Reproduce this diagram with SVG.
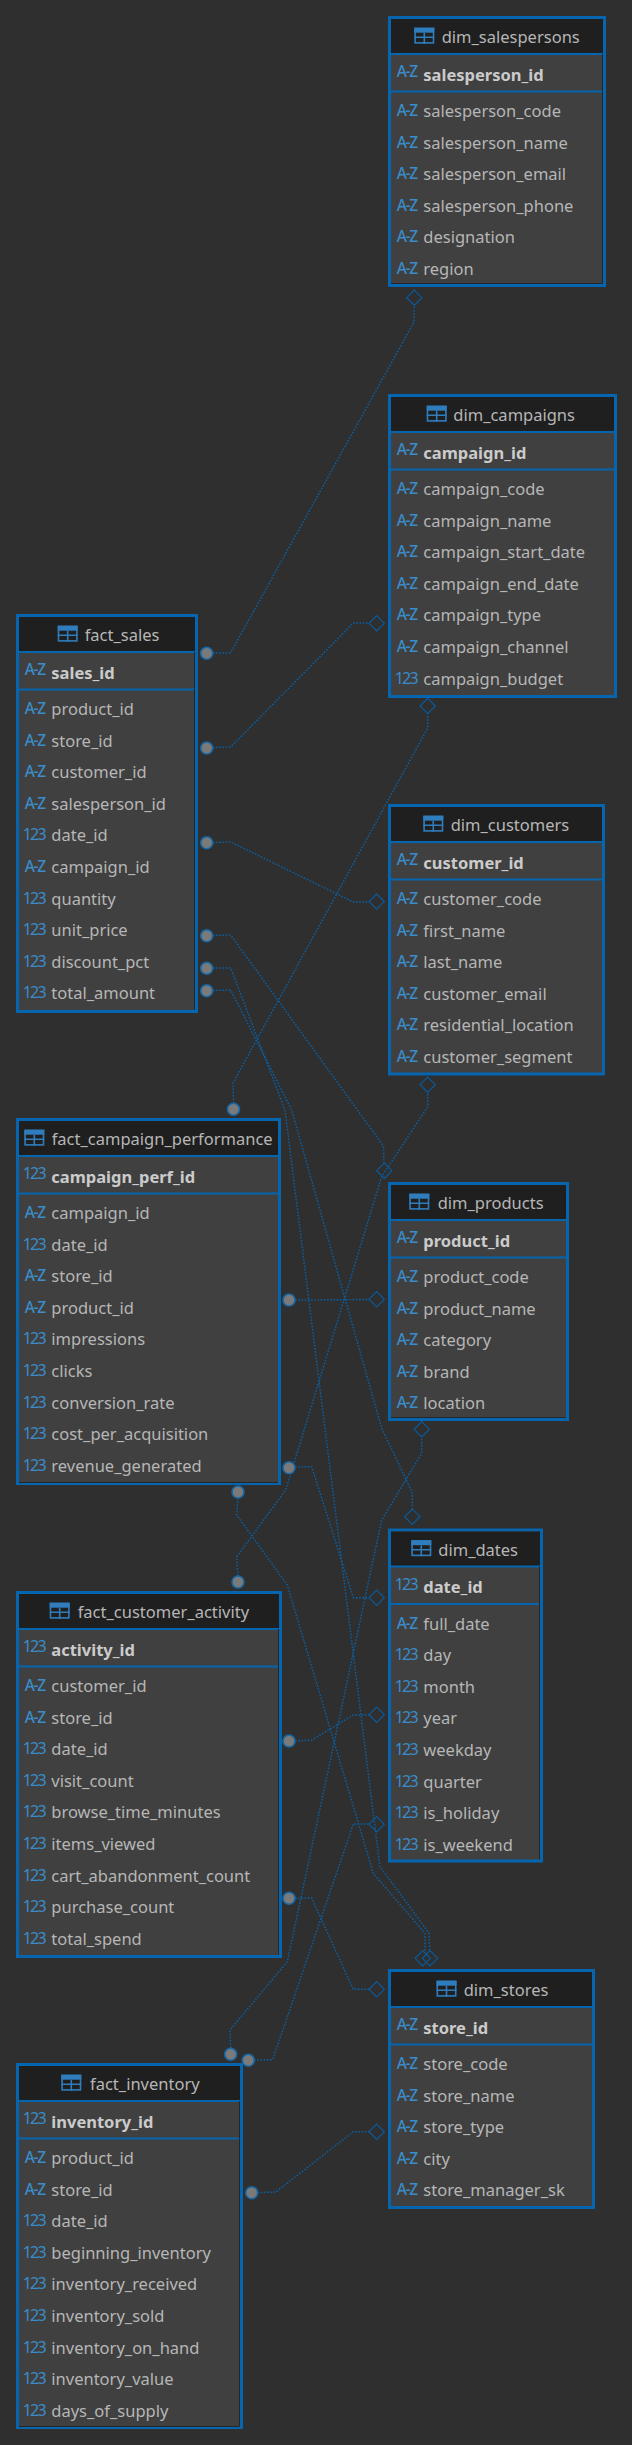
<svg xmlns="http://www.w3.org/2000/svg" xmlns:xlink="http://www.w3.org/1999/xlink" width="632" height="2445" viewBox="0 0 632 2445">
<style>
text{font-family:"Noto Sans","Open Sans","Liberation Sans",sans-serif;font-size:16.5px;fill:#b6b6b6}
.pk{font-weight:700;fill:#cbcbcb}
.az,.n{font-size:15.5px;fill:#3a8cca;font-weight:500}
.az{letter-spacing:-1.3px}
.n{font-size:16px;font-weight:400;letter-spacing:-1.8px}
.box{fill:#404040;stroke:#0565ae;stroke-width:3}
.head{fill:#1f1f1f}
.sep{stroke:#0565ae;stroke-width:2.2}
.sh{stroke:#262626;stroke-width:1;fill:none}
.link polyline{fill:none;stroke:#0862a9;stroke-width:1.4;stroke-dasharray:1.6 1.6}
.dot{fill:#7a7a7a;stroke:#1468a8;stroke-width:1.6}
.dia{fill:none;stroke:#0a5a9c;stroke-width:1.2}
.ic{fill:none;stroke:#2f7dbd;stroke-width:1.6}
</style>
<defs>
<g id="tb"><rect class="ic" x=".8" y=".8" width="18.4" height="14.4"/><rect x="0" y="0" width="20" height="5" fill="#2f7dbd"/><path class="ic" d="M0 9.5H20M10 5V16"/></g>
<circle id="c" class="dot" r="6"/>
<path id="d" class="dia" d="M0-7.6 7.6 0 0 7.6-7.6 0Z"/>
</defs>
<rect width="632" height="2445" fill="#2f2f2f"/>
<g id="connectors" class="link">
<polyline points="213,653 230.5,653 414,322 414,305"/>
<polyline points="213,747.5 230.7,747 353.3,623 369,623"/>
<polyline points="213,842.5 230.7,842 353.3,902 369,902"/>
<polyline points="213,935.5 230.7,935 383.5,1146 384,1163"/>
<polyline points="213,968 230.7,968 285,1110 380,1866.7 429,1933 429.7,1950"/>
<polyline points="213,990.5 230.7,990 291.7,1110 381.7,1428.3 412.3,1492.7 412.3,1509"/>
<polyline points="233.5,1103 233,1083 427.7,728 427.7,713.5"/>
<polyline points="295,1300 369,1299.5"/>
<polyline points="295,1467 311.7,1466.7 353.3,1597.7 369,1597.7"/>
<polyline points="238,1498 236.7,1515 287.3,1585 373.3,1873.3 425,1933.3 425,1950.5"/>
<polyline points="238,1576 236.7,1556.7 285.7,1490 381.7,1176.7 427.7,1106.7 427.7,1092"/>
<polyline points="295,1741 311.7,1740 353.3,1715 369,1715"/>
<polyline points="295,1898.3 311.7,1898 353.3,1989.3 369,1989.3"/>
<polyline points="230.7,2048 230,2030 287.3,1961.7 381.7,1520 421.7,1453.3 421.7,1437"/>
<polyline points="254,2060 272.7,2059.7 353.3,1824 369,1824"/>
<polyline points="257.5,2192.5 276,2192 353.3,2131.7 369,2131.7"/>
</g>
<g id="endpoints">
<use xlink:href="#c" x="206.7" y="653.3"/><use xlink:href="#c" x="206.7" y="748"/><use xlink:href="#c" x="206.7" y="842.7"/><use xlink:href="#c" x="206.7" y="935.7"/><use xlink:href="#c" x="206.7" y="968.3"/><use xlink:href="#c" x="206.7" y="990.7"/>
<use xlink:href="#c" x="233.5" y="1109.3"/><use xlink:href="#c" x="289" y="1300"/><use xlink:href="#c" x="289" y="1467.7"/><use xlink:href="#c" x="238" y="1492"/>
<use xlink:href="#c" x="238" y="1582"/><use xlink:href="#c" x="289" y="1741"/><use xlink:href="#c" x="289" y="1898.3"/>
<use xlink:href="#c" x="230.7" y="2054.3"/><use xlink:href="#c" x="248.3" y="2060.3"/><use xlink:href="#c" x="251.7" y="2192.7"/>
<use xlink:href="#d" x="414.3" y="297.7"/><use xlink:href="#d" x="376.7" y="623.3"/><use xlink:href="#d" x="427.7" y="706"/><use xlink:href="#d" x="376.7" y="901.6"/><use xlink:href="#d" x="427.7" y="1084.7"/><use xlink:href="#d" x="384.3" y="1170.7"/><use xlink:href="#d" x="376.7" y="1299.3"/><use xlink:href="#d" x="421.7" y="1429.3"/><use xlink:href="#d" x="412.3" y="1516.7"/><use xlink:href="#d" x="376.7" y="1597.7"/><use xlink:href="#d" x="376.7" y="1714.7"/><use xlink:href="#d" x="376.7" y="1824.2"/><use xlink:href="#d" x="422.7" y="1958.3"/><use xlink:href="#d" x="430" y="1958.3"/><use xlink:href="#d" x="376.7" y="1989.3"/><use xlink:href="#d" x="376.7" y="2131.7"/>
</g>
<g id="dim_salespersons" transform="translate(388 16)">
<rect class="box" x="1.5" y="1.5" width="215" height="268"/><rect class="head" x="3" y="3" width="212" height="35"/><path class="sep" d="M3 38H215M3 75.5H215"/><path class="sh" d="M214.5 38V267.5H3"/>
<use xlink:href="#tb" x="26.3" y="11.7"/><text x="53.7" y="27">dim_salespersons</text>
<text class="az" x="8.7" y="61">A-Z</text><text class="pk" x="35.3" y="64.7">salesperson_id</text>
<text class="az" x="8.7" y="100">A-Z</text><text x="35.3" y="101">salesperson_code</text>
<text class="az" x="8.7" y="131.6">A-Z</text><text x="35.3" y="132.6">salesperson_name</text>
<text class="az" x="8.7" y="163.2">A-Z</text><text x="35.3" y="164.2">salesperson_email</text>
<text class="az" x="8.7" y="194.8">A-Z</text><text x="35.3" y="195.8">salesperson_phone</text>
<text class="az" x="8.7" y="226.4">A-Z</text><text x="35.3" y="227.4">designation</text>
<text class="az" x="8.7" y="258">A-Z</text><text x="35.3" y="259">region</text>
</g>
<g id="dim_campaigns" transform="translate(388 394)">
<rect class="box" x="1.5" y="1.5" width="226" height="301"/><rect class="head" x="3" y="3" width="223" height="35"/><path class="sep" d="M3 38H226M3 75.5H226"/>
<use xlink:href="#tb" x="38.7" y="11.7"/><text x="65.3" y="27">dim_campaigns</text>
<text class="az" x="8.7" y="61">A-Z</text><text class="pk" x="35.3" y="64.7">campaign_id</text>
<text class="az" x="8.7" y="100">A-Z</text><text x="35.3" y="101">campaign_code</text>
<text class="az" x="8.7" y="131.6">A-Z</text><text x="35.3" y="132.6">campaign_name</text>
<text class="az" x="8.7" y="163.2">A-Z</text><text x="35.3" y="164.2">campaign_start_date</text>
<text class="az" x="8.7" y="194.8">A-Z</text><text x="35.3" y="195.8">campaign_end_date</text>
<text class="az" x="8.7" y="226.4">A-Z</text><text x="35.3" y="227.4">campaign_type</text>
<text class="az" x="8.7" y="258">A-Z</text><text x="35.3" y="259">campaign_channel</text>
<text class="n" x="6.7" y="289.6">123</text><text x="35.3" y="290.6">campaign_budget</text>
</g>
<g id="dim_customers" transform="translate(388 804)">
<rect class="box" x="1.5" y="1.5" width="214" height="268.5"/><rect class="head" x="3" y="3" width="211" height="35"/><path class="sep" d="M3 38H214M3 75.5H214"/>
<use xlink:href="#tb" x="35.3" y="11.7"/><text x="62.7" y="27">dim_customers</text>
<text class="az" x="8.7" y="61">A-Z</text><text class="pk" x="35.3" y="64.7">customer_id</text>
<text class="az" x="8.7" y="100">A-Z</text><text x="35.3" y="101">customer_code</text>
<text class="az" x="8.7" y="131.6">A-Z</text><text x="35.3" y="132.6">first_name</text>
<text class="az" x="8.7" y="163.2">A-Z</text><text x="35.3" y="164.2">last_name</text>
<text class="az" x="8.7" y="194.8">A-Z</text><text x="35.3" y="195.8">customer_email</text>
<text class="az" x="8.7" y="226.4">A-Z</text><text x="35.3" y="227.4">residential_location</text>
<text class="az" x="8.7" y="258">A-Z</text><text x="35.3" y="259">customer_segment</text>
</g>
<g id="dim_products" transform="translate(388 1182)">
<rect class="box" x="1.5" y="1.5" width="178" height="236"/><rect class="head" x="3" y="3" width="175" height="35"/><path class="sep" d="M3 38H178M3 75.5H178"/><path class="sh" d="M3 235.5H178"/>
<use xlink:href="#tb" x="21.3" y="11.7"/><text x="49.7" y="27">dim_products</text>
<text class="az" x="8.7" y="61">A-Z</text><text class="pk" x="35.3" y="64.7">product_id</text>
<text class="az" x="8.7" y="100">A-Z</text><text x="35.3" y="101">product_code</text>
<text class="az" x="8.7" y="131.6">A-Z</text><text x="35.3" y="132.6">product_name</text>
<text class="az" x="8.7" y="163.2">A-Z</text><text x="35.3" y="164.2">category</text>
<text class="az" x="8.7" y="194.8">A-Z</text><text x="35.3" y="195.8">brand</text>
<text class="az" x="8.7" y="226.4">A-Z</text><text x="35.3" y="227.4">location</text>
</g>
<g id="dim_dates" transform="translate(388 1528.5)">
<rect class="box" x="1.5" y="1.5" width="152" height="331"/><rect class="head" x="3" y="3" width="149" height="35"/><path class="sep" d="M3 38H152M3 75.5H152"/><path class="sh" d="M151.5 38V331"/>
<use xlink:href="#tb" x="23.3" y="11.7"/><text x="50.3" y="27">dim_dates</text>
<text class="n" x="6.7" y="61">123</text><text class="pk" x="35.3" y="64.7">date_id</text>
<text class="az" x="8.7" y="100">A-Z</text><text x="35.3" y="101">full_date</text>
<text class="n" x="6.7" y="131.6">123</text><text x="35.3" y="132.6">day</text>
<text class="n" x="6.7" y="163.2">123</text><text x="35.3" y="164.2">month</text>
<text class="n" x="6.7" y="194.8">123</text><text x="35.3" y="195.8">year</text>
<text class="n" x="6.7" y="226.4">123</text><text x="35.3" y="227.4">weekday</text>
<text class="n" x="6.7" y="258">123</text><text x="35.3" y="259">quarter</text>
<text class="n" x="6.7" y="289.6">123</text><text x="35.3" y="290.6">is_holiday</text>
<text class="n" x="6.7" y="321.2">123</text><text x="35.3" y="322.2">is_weekend</text>
</g>
<g id="dim_stores" transform="translate(388 1969)">
<rect class="box" x="1.5" y="1.5" width="204" height="237"/><rect class="head" x="3" y="3" width="201" height="35"/><path class="sep" d="M3 38H204M3 75.5H204"/>
<use xlink:href="#tb" x="48.5" y="11.7"/><text x="75.7" y="27">dim_stores</text>
<text class="az" x="8.7" y="61">A-Z</text><text class="pk" x="35.3" y="64.7">store_id</text>
<text class="az" x="8.7" y="100">A-Z</text><text x="35.3" y="101">store_code</text>
<text class="az" x="8.7" y="131.6">A-Z</text><text x="35.3" y="132.6">store_name</text>
<text class="az" x="8.7" y="163.2">A-Z</text><text x="35.3" y="164.2">store_type</text>
<text class="az" x="8.7" y="194.8">A-Z</text><text x="35.3" y="195.8">city</text>
<text class="az" x="8.7" y="226.4">A-Z</text><text x="35.3" y="227.4">store_manager_sk</text>
</g>
<g id="fact_sales" transform="translate(16 614)">
<rect class="box" x="1.5" y="1.5" width="179" height="396"/><rect class="head" x="3" y="3" width="176" height="35"/><path class="sep" d="M3 38H179M3 75.5H179"/><path class="sh" d="M178.5 38V396"/>
<use xlink:href="#tb" x="41.7" y="11.7"/><text x="68.7" y="27">fact_sales</text>
<text class="az" x="8.7" y="61">A-Z</text><text class="pk" x="35.3" y="64.7">sales_id</text>
<text class="az" x="8.7" y="100">A-Z</text><text x="35.3" y="101">product_id</text>
<text class="az" x="8.7" y="131.6">A-Z</text><text x="35.3" y="132.6">store_id</text>
<text class="az" x="8.7" y="163.2">A-Z</text><text x="35.3" y="164.2">customer_id</text>
<text class="az" x="8.7" y="194.8">A-Z</text><text x="35.3" y="195.8">salesperson_id</text>
<text class="n" x="6.7" y="226.4">123</text><text x="35.3" y="227.4">date_id</text>
<text class="az" x="8.7" y="258">A-Z</text><text x="35.3" y="259">campaign_id</text>
<text class="n" x="6.7" y="289.6">123</text><text x="35.3" y="290.6">quantity</text>
<text class="n" x="6.7" y="321.2">123</text><text x="35.3" y="322.2">unit_price</text>
<text class="n" x="6.7" y="352.8">123</text><text x="35.3" y="353.8">discount_pct</text>
<text class="n" x="6.7" y="384.4">123</text><text x="35.3" y="385.4">total_amount</text>
</g>
<g id="fact_campaign_performance" transform="translate(16 1118)">
<rect class="box" x="1.5" y="1.5" width="262" height="364"/><rect class="head" x="3" y="3" width="259" height="35"/><path class="sep" d="M3 38H262M3 75.5H262"/><path class="sh" d="M3 364.5H262"/>
<use xlink:href="#tb" x="8.3" y="11.7"/><text x="35.7" y="27">fact_campaign_performance</text>
<text class="n" x="6.7" y="61">123</text><text class="pk" x="35.3" y="64.7">campaign_perf_id</text>
<text class="az" x="8.7" y="100">A-Z</text><text x="35.3" y="101">campaign_id</text>
<text class="n" x="6.7" y="131.6">123</text><text x="35.3" y="132.6">date_id</text>
<text class="az" x="8.7" y="163.2">A-Z</text><text x="35.3" y="164.2">store_id</text>
<text class="az" x="8.7" y="194.8">A-Z</text><text x="35.3" y="195.8">product_id</text>
<text class="n" x="6.7" y="226.4">123</text><text x="35.3" y="227.4">impressions</text>
<text class="n" x="6.7" y="258">123</text><text x="35.3" y="259">clicks</text>
<text class="n" x="6.7" y="289.6">123</text><text x="35.3" y="290.6">conversion_rate</text>
<text class="n" x="6.7" y="321.2">123</text><text x="35.3" y="322.2">cost_per_acquisition</text>
<text class="n" x="6.7" y="352.8">123</text><text x="35.3" y="353.8">revenue_generated</text>
</g>
<g id="fact_customer_activity" transform="translate(16 1591)">
<rect class="box" x="1.5" y="1.5" width="263" height="364"/><rect class="head" x="3" y="3" width="260" height="35"/><path class="sep" d="M3 38H263M3 75.5H263"/><path class="sh" d="M262.5 38V364"/>
<use xlink:href="#tb" x="33.7" y="11.7"/><text x="61.7" y="27">fact_customer_activity</text>
<text class="n" x="6.7" y="61">123</text><text class="pk" x="35.3" y="64.7">activity_id</text>
<text class="az" x="8.7" y="100">A-Z</text><text x="35.3" y="101">customer_id</text>
<text class="az" x="8.7" y="131.6">A-Z</text><text x="35.3" y="132.6">store_id</text>
<text class="n" x="6.7" y="163.2">123</text><text x="35.3" y="164.2">date_id</text>
<text class="n" x="6.7" y="194.8">123</text><text x="35.3" y="195.8">visit_count</text>
<text class="n" x="6.7" y="226.4">123</text><text x="35.3" y="227.4">browse_time_minutes</text>
<text class="n" x="6.7" y="258">123</text><text x="35.3" y="259">items_viewed</text>
<text class="n" x="6.7" y="289.6">123</text><text x="35.3" y="290.6">cart_abandonment_count</text>
<text class="n" x="6.7" y="321.2">123</text><text x="35.3" y="322.2">purchase_count</text>
<text class="n" x="6.7" y="352.8">123</text><text x="35.3" y="353.8">total_spend</text>
</g>
<g id="fact_inventory" transform="translate(16 2063)">
<rect class="box" x="1.5" y="1.5" width="224" height="363"/><rect class="head" x="3" y="3" width="221" height="35"/><path class="sep" d="M3 38H224M3 75.5H224"/><path class="sh" d="M223.5 38V363.5H3"/>
<use xlink:href="#tb" x="45.3" y="11.7"/><text x="74" y="27">fact_inventory</text>
<text class="n" x="6.7" y="61">123</text><text class="pk" x="35.3" y="64.7">inventory_id</text>
<text class="az" x="8.7" y="100">A-Z</text><text x="35.3" y="101">product_id</text>
<text class="az" x="8.7" y="131.6">A-Z</text><text x="35.3" y="132.6">store_id</text>
<text class="n" x="6.7" y="163.2">123</text><text x="35.3" y="164.2">date_id</text>
<text class="n" x="6.7" y="194.8">123</text><text x="35.3" y="195.8">beginning_inventory</text>
<text class="n" x="6.7" y="226.4">123</text><text x="35.3" y="227.4">inventory_received</text>
<text class="n" x="6.7" y="258">123</text><text x="35.3" y="259">inventory_sold</text>
<text class="n" x="6.7" y="289.6">123</text><text x="35.3" y="290.6">inventory_on_hand</text>
<text class="n" x="6.7" y="321.2">123</text><text x="35.3" y="322.2">inventory_value</text>
<text class="n" x="6.7" y="352.8">123</text><text x="35.3" y="353.8">days_of_supply</text>
</g>
</svg>
